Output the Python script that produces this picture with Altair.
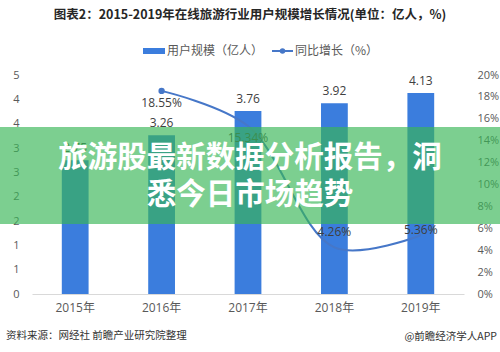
import altair as alt
import pandas as pd

# ---- data ----
years = ["2015年", "2016年", "2017年", "2018年", "2019年"]
users = [2.75, 3.26, 3.76, 3.92, 4.13]          # 用户规模（亿人）
growth = [None, 18.55, 15.34, 4.26, 5.36]        # 同比增长（%）
left_ticks = [0, 0.5, 1, 1.5, 2, 2.5, 3, 3.5, 4, 4.5]
right_ticks = [0, 2, 4, 6, 8, 10, 12, 14, 16, 18, 20]

title_text = "图表2：2015-2019年在线旅游行业用户规模增长情况(单位：亿人，%)"
legend_names = ["用户规模（亿人）", "同比增长（%）"]
banner_lines = ["旅游股最新数据分析报告，洞", "悉今日市场趋势"]
source_text = "资料来源：网经社 前瞻产业研究院整理"
brand_text = "@前瞻经济学人APP"

df = pd.DataFrame({"year": years, "users": users, "growth": growth})

FONT = "Open Sans, Noto Sans CJK SC"
CJK = "Noto Sans CJK SC"
BAR = "#3b7ddd"
LINE = "#4677c8"
GREY = "#595959"

X = alt.X("year:N", sort=years, title=None,
          scale=alt.Scale(paddingInner=0.69, paddingOuter=0.345),
          axis=alt.Axis(labelAngle=0, ticks=False, domainColor="#d9d9d9",
                        labelColor=GREY, labelFontSize=12, labelFont=FONT,
                        labelPadding=8, grid=False))

YL = alt.Y("users:Q", title=None,
           scale=alt.Scale(domain=[0, 4.5], nice=False),
           axis=alt.Axis(orient="left", values=left_ticks, labelExpr="round(datum.value)",
                         grid=False, domain=False, ticks=False, labelColor=GREY,
                         labelFontSize=11, labelFont=FONT, labelPadding=13))

YR = alt.Y("growth:Q", title=None,
           scale=alt.Scale(domain=[0, 20], nice=False),
           axis=alt.Axis(orient="right", values=right_ticks, labelExpr="datum.value + '%'",
                         grid=False, domain=False, ticks=False, labelColor=GREY,
                         labelFontSize=11, labelFont=FONT, labelPadding=13))

base = alt.Chart(df)

bars = base.mark_bar(color=BAR).encode(x=X, y=YL)
bar_text = base.mark_text(dy=-12, fontSize=12, font=FONT, color="#404040").encode(
    x=X, y=YL, text=alt.Text("users:Q", format=".2f"))
left = alt.layer(bars, bar_text)

gbase = base.transform_filter("isValid(datum.growth)").transform_calculate(
    lbl="format(datum.growth, '.2f') + '%'")
line = gbase.mark_line(interpolate="catmull-rom", color=LINE, strokeWidth=2).encode(x=X, y=YR)
dot = gbase.transform_filter(alt.datum.year == years[1]).mark_point(
    filled=True, color=LINE, size=40, opacity=1).encode(x=X, y=YR)
lab_below = gbase.transform_filter(alt.FieldOneOfPredicate(field="year", oneOf=years[1:3])).mark_text(
    dy=12, fontSize=12, font=FONT, color="#404040").encode(x=X, y=YR, text="lbl:N")
lab_2018 = gbase.transform_filter(alt.datum.year == years[3]).mark_text(
    dy=-15, fontSize=12, font=FONT, color="#404040").encode(x=X, y=YR, text="lbl:N")
lab_2019 = gbase.transform_filter(alt.datum.year == years[4]).mark_text(
    dy=-5, fontSize=12, font=FONT, color="#404040").encode(x=X, y=YR, text="lbl:N")
right = alt.layer(line, dot, lab_below, lab_2018, lab_2019)

one = pd.DataFrame({"k": [0]})

banner = alt.Chart(one).mark_rect(color="#38b657", opacity=0.66).encode(
    x=alt.value(-32), x2=alt.value(468), y=alt.value(52), y2=alt.value(149))

b1 = alt.Chart(pd.DataFrame({"t": [banner_lines[0]]})).mark_text(
    font=CJK, fontSize=29.5, fontWeight="bold", color="white", baseline="middle").encode(
    text="t:N", x=alt.value(218), y=alt.value(83))
b2 = alt.Chart(pd.DataFrame({"t": [banner_lines[1]]})).mark_text(
    font=CJK, fontSize=29.5, fontWeight="bold", color="white", baseline="middle").encode(
    text="t:N", x=alt.value(218), y=alt.value(120))

title = alt.Chart(pd.DataFrame({"t": [title_text]})).mark_text(
    font=CJK, fontSize=12.5, fontWeight="bold", color="#262626", baseline="middle").encode(
    text="t:N", x=alt.value(218), y=alt.value(-60))

leg_rect = alt.Chart(one).mark_rect(color=BAR).encode(
    x=alt.value(111), x2=alt.value(133), y=alt.value(-27), y2=alt.value(-21))
leg_t1 = alt.Chart(pd.DataFrame({"t": [legend_names[0]]})).mark_text(
    font=CJK, fontSize=12, color=GREY, align="left", baseline="middle").encode(
    text="t:N", x=alt.value(135), y=alt.value(-24))
leg_line = alt.Chart(one).mark_rule(color=LINE, strokeWidth=2).encode(
    x=alt.value(240), x2=alt.value(261), y=alt.value(-24))
leg_dot = alt.Chart(one).mark_point(filled=True, color=LINE, size=30, opacity=1).encode(
    x=alt.value(250.5), y=alt.value(-24))
leg_t2 = alt.Chart(pd.DataFrame({"t": [legend_names[1]]})).mark_text(
    font=CJK, fontSize=12, color=GREY, align="left", baseline="middle").encode(
    text="t:N", x=alt.value(263), y=alt.value(-24))

src = alt.Chart(pd.DataFrame({"t": [source_text]})).mark_text(
    font=CJK, fontSize=10.5, color="#333333", align="left", baseline="middle").encode(
    text="t:N", x=alt.value(-26), y=alt.value(261))
brand = alt.Chart(pd.DataFrame({"t": [brand_text]})).mark_text(
    font=CJK, fontSize=10.5, color="#333333", align="right", baseline="middle").encode(
    text="t:N", x=alt.value(465), y=alt.value(262))

chart = alt.layer(
    left, right, banner, b1, b2, title, leg_rect, leg_t1, leg_line, leg_dot, leg_t2, src, brand
).resolve_scale(y="independent").properties(
    width=432, height=219,
    autosize=alt.AutoSizeParams(type="none"),
    padding={"left": 32, "top": 75, "right": 36, "bottom": 58},
    background="white",
).configure_view(strokeWidth=0)

chart.save("out.html", embed_options={"renderer": "svg", "actions": False})
